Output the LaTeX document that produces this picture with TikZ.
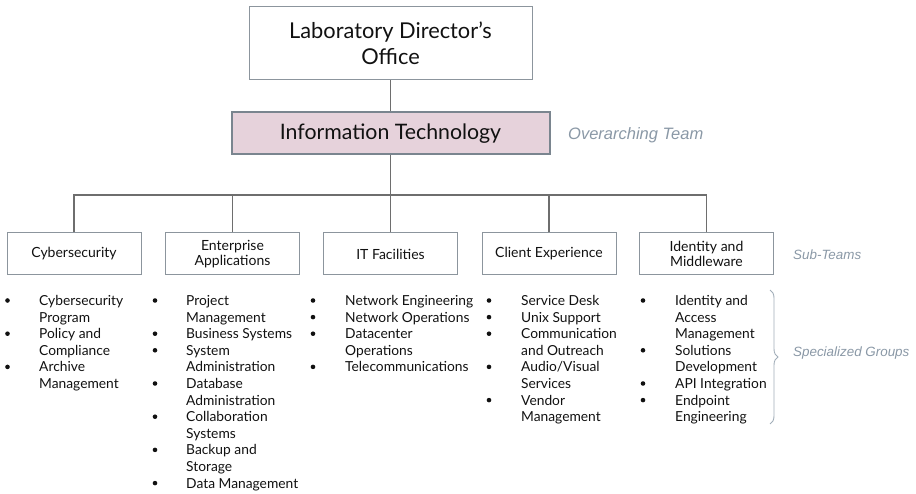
\documentclass[tikz,border=0pt]{standalone}
\usepackage{fontspec}
\setmainfont{Lato}
\newfontfamily\labfont{Liberation Sans}
\usetikzlibrary{decorations.pathreplacing}
\definecolor{boxline}{HTML}{8C959D}
\definecolor{itline}{HTML}{7A858F}
\definecolor{itfill}{HTML}{E6D2DB}
\definecolor{conn}{HTML}{6E6E6E}
\definecolor{labgray}{HTML}{8A98A6}
\definecolor{txt}{HTML}{111111}
\tikzset{
  topbox/.style={draw=boxline, line width=1pt, minimum width=283pt, minimum height=73pt, align=center, font=\fontsize{21.8}{26}\selectfont, text=txt, inner sep=0pt},
  itbox/.style={draw=itline, line width=2pt, fill=itfill, minimum width=318pt, minimum height=42pt, font=\fontsize{21.3}{25}\selectfont, text=txt, inner sep=0pt},
  subbox/.style={draw=boxline, line width=1pt, minimum width=134pt, minimum height=42pt, align=center, font=\fontsize{14}{15.6}\selectfont, text=txt, inner sep=0pt},
  conline/.style={draw=conn, line width=1.2pt},
  itemtxt/.style={font=\fontsize{13.8}{16}\selectfont, text=txt, inner sep=0pt, anchor=base west},
  grouplabel/.style={font=\labfont\itshape, text=labgray, inner sep=0pt, anchor=west}
}
\newcommand\itemcol[4]{%
  \foreach \b/\t [count=\i from 0] in {#4} {
    \node[itemtxt] (#1-\i) at (#3, {305.5+16.6*\i}) {\t};
    \ifnum\b=1 \fill[txt] (#2, {300.5+16.6*\i}) circle (2.3pt); \fi
  }%
}
\begin{document}
\begin{tikzpicture}[x=1pt, y=-1pt]
\useasboundingbox (0,0) rectangle (916,494);
\node[topbox] (ldo) at (390.5,43.5) {Laboratory Director’s\\Office};
\node[itbox] (it) at (390.5,133.5) {Information Technology};
\node[grouplabel, font=\labfont\itshape\fontsize{16.5}{19}\selectfont] (lab1) at (568,135) {Overarching Team};

\node[subbox] (cs) at (74,254) {Cybersecurity};
\node[subbox] (ent) at (232.5,254) {Enterprise\\Applications};
\node[subbox] (itf) at (390.5,254) {IT Facilities};
\node[subbox] (ce) at (549,254) {Client Experience};
\node[subbox] (idm) at (706.5,254) {Identity and\\Middleware};
\node[grouplabel, font=\labfont\itshape\fontsize{13.4}{16}\selectfont] (lab2) at (793,255) {Sub-Teams};

\coordinate (bus) at (390.5,195);
\draw[conline] (ldo.south) -- (it.north);
\draw[conline] (it.south) -- (bus);
\draw[conline] (cs.north) |- (bus);
\draw[conline] (ent.north) |- (bus);
\draw[conline] (itf.north) |- (bus);
\draw[conline] (ce.north) |- (bus);
\draw[conline] (idm.north) |- (bus);

\itemcol{csl}{7.5}{39}{1/Cybersecurity, 0/Program, 1/Policy and, 0/Compliance, 1/Archive, 0/Management}
\itemcol{entl}{155}{186}{1/Project, 0/Management, 1/Business Systems, 1/System, 0/Administration, 1/Database, 0/Administration, 1/Collaboration, 0/Systems, 1/Backup and, 0/Storage, 1/Data Management}
\itemcol{itfl}{313}{345}{1/Network Engineering, 1/Network Operations, 1/Datacenter, 0/Operations, 1/Telecommunications}
\itemcol{cel}{489}{521}{1/Service Desk, 1/Unix Support, 1/Communication, 0/and Outreach, 1/{Audio/Visual}, 0/Services, 1/Vendor, 0/Management}
\itemcol{idml}{643}{675}{1/Identity and, 0/Access, 0/Management, 1/Solutions, 0/Development, 1/API Integration, 1/Endpoint, 0/Engineering}

\coordinate (brtop) at (770,290);
\coordinate (brbot) at (770,424);
\draw[draw=labgray!80, line width=0.9pt, decorate, decoration={brace, amplitude=8pt}] (brtop) -- (brbot);
\node[grouplabel, font=\labfont\itshape\fontsize{13.4}{16}\selectfont] (lab3) at (793,353) {Specialized Groups};
\end{tikzpicture}
\end{document}
